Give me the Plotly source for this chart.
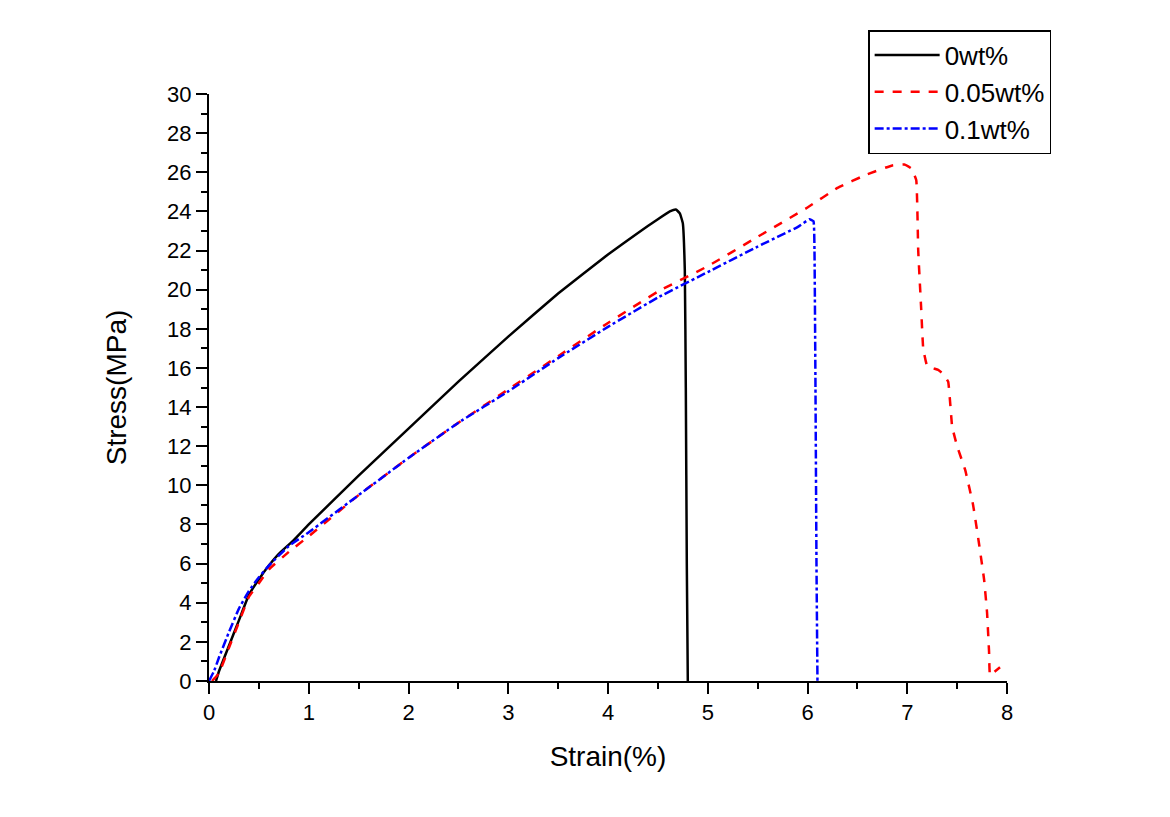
import plotly.graph_objects as go

# 0wt%
x0 = [0.07, 0.1, 0.2, 0.3, 0.4, 0.5, 0.6, 0.7, 0.85, 1.0, 1.5, 2.0, 2.5, 3.0, 3.5, 4.0, 4.3, 4.5, 4.62, 4.68, 4.72, 4.75, 4.77, 4.78, 4.79, 4.80]
y0 = [0.0, 0.5, 1.8, 3.1, 4.4, 5.2, 5.9, 6.5, 7.2, 8.0, 10.5, 12.9, 15.3, 17.6, 19.8, 21.8, 22.9, 23.6, 24.0, 24.1, 23.9, 23.4, 21.0, 15.0, 6.0, 0.0]

# 0.05wt%
x1 = [0.03, 0.1, 0.2, 0.3, 0.4, 0.5, 0.6, 0.8, 1.0, 1.5, 2.0, 2.5, 3.0, 3.5, 4.0, 4.5, 5.0, 5.5, 6.0, 6.3, 6.6, 6.85, 6.97, 7.04, 7.09, 7.11, 7.14, 7.16, 7.2, 7.31, 7.36, 7.41, 7.45, 7.5, 7.58, 7.66, 7.72, 7.77, 7.8, 7.82, 7.83, 7.87, 7.93]
y1 = [0.0, 0.4, 1.7, 3.0, 4.3, 5.0, 5.7, 6.6, 7.4, 9.5, 11.4, 13.2, 14.9, 16.6, 18.3, 19.9, 21.2, 22.7, 24.2, 25.2, 25.9, 26.35, 26.4, 26.2, 25.6, 22.0, 19.0, 17.0, 16.1, 15.9, 15.7, 15.3, 13.0, 12.0, 10.8, 9.0, 7.0, 5.2, 3.5, 1.5, 0.3, 0.45, 0.7]

# 0.1wt%
x2 = [0.0, 0.05, 0.1, 0.2, 0.3, 0.4, 0.5, 0.6, 0.8, 1.0, 1.5, 2.0, 2.5, 3.0, 3.5, 4.0, 4.5, 5.0, 5.5, 5.9, 6.02, 6.06, 6.07, 6.08, 6.09, 6.10]
y2 = [0.0, 0.5, 1.2, 2.5, 3.7, 4.6, 5.3, 5.9, 6.9, 7.6, 9.5, 11.4, 13.2, 14.8, 16.5, 18.1, 19.6, 20.9, 22.2, 23.2, 23.6, 23.5, 22.0, 15.0, 6.0, 0.0]

names = ["0wt%", "0.05wt%", "0.1wt%"]
colors = ["black", "red", "blue"]
dashes = ["solid", "dash", "dashdot"]

FONT = "Liberation Sans, Arial"

fig = go.Figure()
for xs, ys, n, c, d in zip([x0, x1, x2], [y0, y1, y2], names, colors, dashes):
    fig.add_trace(go.Scatter(x=xs, y=ys, mode="lines", name=n,
                             line=dict(color=c, width=2.5, dash=d, shape="spline", smoothing=0.3)))

axis_common = dict(
    showline=True, linecolor="black", linewidth=2,
    ticks="outside", ticklen=11, tickwidth=2, tickcolor="black",
    showgrid=False, zeroline=False, mirror=False,
    tickfont=dict(family=FONT, size=22, color="black"),
)

fig.update_xaxes(range=[0, 8], dtick=1, tick0=0,
                 minor=dict(ticks="outside", ticklen=6, tickwidth=2, tickcolor="black", dtick=0.5),
                 title=dict(text="Strain(%)", font=dict(family=FONT, size=28, color="black"), standoff=22),
                 **axis_common)
fig.update_yaxes(range=[0, 30], dtick=2, tick0=0,
                 minor=dict(ticks="outside", ticklen=6, tickwidth=2, tickcolor="black", dtick=1),
                 title=dict(text="Stress(MPa)", font=dict(family=FONT, size=28, color="black"), standoff=32),
                 **axis_common)

fig.update_layout(
    width=1170, height=817,
    margin=dict(l=201, r=171, t=86, b=144),
    plot_bgcolor="white", paper_bgcolor="white",
    showlegend=True,
    legend=dict(x=0.826, y=1.109, xanchor="left", yanchor="top",
                bordercolor="black", borderwidth=1.5, bgcolor="white",
                font=dict(family=FONT, size=26, color="black"),
                itemwidth=65, tracegroupgap=0),
)

fig.write_html("out.html")
